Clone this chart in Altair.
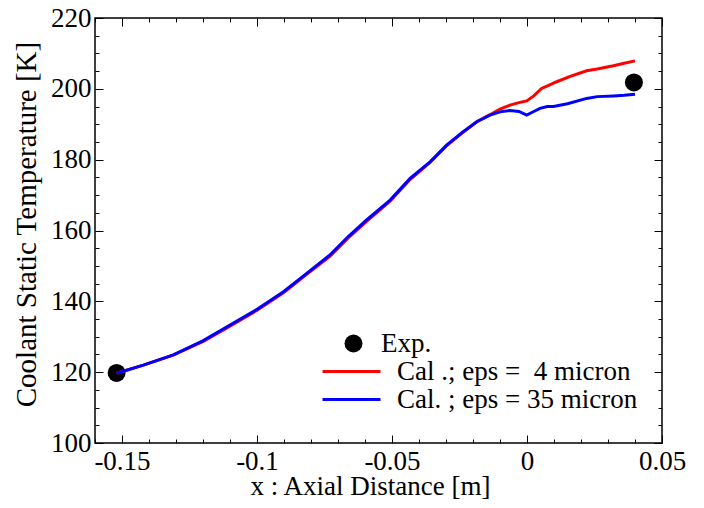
import altair as alt
import pandas as pd

# ---- data ----
x_red = [-0.152, -0.1421, -0.131, -0.1199, -0.110, -0.1001, -0.0902, -0.0816, -0.073,
         -0.0662, -0.0594, -0.0507, -0.0433, -0.0359, -0.0298, -0.0236, -0.0186, -0.0137,
         -0.010, -0.0063, -0.003, -0.0001, 0.0025, 0.0054, 0.008, 0.011, 0.016, 0.0221,
         0.026, 0.032, 0.036, 0.040]
y_red = [119.7, 122.0, 124.8, 128.7, 133.0, 137.4, 142.4, 147.6, 152.7,
         157.9, 162.6, 168.3, 174.4, 179.2, 183.9, 187.8, 190.7, 192.7,
         194.3, 195.4, 196.1, 196.6, 198.0, 200.1, 201.0, 202.0, 203.5, 205.1,
         205.6, 206.5, 207.2, 207.9]

x_blue = [-0.152, -0.1421, -0.131, -0.1199, -0.110, -0.1001, -0.0902, -0.0816, -0.073,
          -0.0662, -0.0594, -0.0507, -0.0433, -0.0359, -0.0298, -0.0236, -0.0186, -0.0137,
          -0.010, -0.0063, -0.003, -0.0001, 0.0025, 0.0048, 0.0075, 0.0098, 0.015, 0.0221,
          0.026, 0.032, 0.036, 0.040]
y_blue = [119.7, 122.0, 124.9, 128.9, 133.3, 137.7, 142.7, 147.9, 153.1,
          158.3, 163.0, 168.6, 174.7, 179.4, 184.1, 187.9, 190.7, 192.6,
          193.5, 193.9, 193.6, 192.6, 193.6, 194.5, 195.0, 195.0, 195.8, 197.3,
          197.8, 198.0, 198.2, 198.5]

exp_x = [-0.152, 0.0396]
exp_y = [119.8, 201.8]

series_labels = ["Cal .; eps = \u00a04 micron", "Cal. ; eps = 35 micron"]
exp_label = "Exp."

x_major = [-0.15, -0.1, -0.05, 0, 0.05]
x_minor = [-0.16, -0.14, -0.13, -0.12, -0.11, -0.09, -0.08, -0.07, -0.06,
           -0.04, -0.03, -0.02, -0.01, 0.01, 0.02, 0.03, 0.04]
y_major = [100, 120, 140, 160, 180, 200, 220]
y_minor = [105, 110, 115, 125, 130, 135, 145, 150, 155, 165, 170, 175,
           185, 190, 195, 205, 210, 215]

red_df = pd.DataFrame({"x": x_red, "y": y_red, "series": series_labels[0]})
blue_df = pd.DataFrame({"x": x_blue, "y": y_blue, "series": series_labels[1]})
exp_df = pd.DataFrame({"x": exp_x, "y": exp_y, "label": exp_label})

FONT = "Liberation Serif"
xscale = alt.Scale(domain=[-0.16, 0.05], nice=False, zero=False)
yscale = alt.Scale(domain=[100, 220], nice=False, zero=False)
cscale = alt.Scale(domain=series_labels, range=["#ff0000", "#0000ff"])


def tick_axis(orient, values, size):
    return alt.Axis(orient=orient, values=values, tickSize=size, offset=-size,
                    labels=False, title=None, domain=False, grid=False,
                    tickColor="black", tickWidth=1)


line_legend = alt.Legend(orient="none", legendX=226, legendY=340, title=None,
                         symbolType="stroke", symbolSize=3364, symbolStrokeWidth=3,
                         labelFont=FONT, labelFontSize=27, labelColor="black",
                         labelLimit=500, labelOffset=15, clipHeight=27, padding=0,
                         rowPadding=0)

x_main_axis = alt.Axis(orient="bottom", values=x_major, tickSize=8, offset=-8,
                       labelPadding=5, format="~g",
                       labelExpr="replace(datum.label, '\u2212', '-')",
                       labelFlush=False, labelOverlap=False,
                       title="x : Axial Distance [m]",
                       titleX=275, titleY=59, titleBaseline="alphabetic",
                       domain=False, grid=False,
                       tickColor="black", tickWidth=1,
                       labelFont=FONT, labelFontSize=27, labelColor="black",
                       titleFont=FONT, titleFontSize=27, titleFontWeight="normal",
                       titleColor="black")
y_main_axis = alt.Axis(orient="left", values=y_major, tickSize=8, offset=-8,
                       labelPadding=4, labelFlush=False, labelOverlap=False,
                       title="Coolant Static Temperature [K]",
                       titleX=-68, titleY=206, titleBaseline="alphabetic",
                       domain=False, grid=False,
                       tickColor="black", tickWidth=1,
                       labelFont=FONT, labelFontSize=27, labelColor="black",
                       titleFont=FONT, titleFontSize=29, titleFontWeight="normal",
                       titleColor="black")

points = alt.Chart(exp_df).mark_circle(size=324, opacity=1).encode(
    x=alt.X("x:Q", scale=xscale, axis=tick_axis("top", x_major, 8)),
    y=alt.Y("y:Q", scale=yscale, axis=tick_axis("right", y_major, 8)),
    fill=alt.Fill("label:N", scale=alt.Scale(domain=[exp_label], range=["black"]),
                  legend=alt.Legend(orient="none", legendX=245, legendY=312, title=None,
                                    symbolType="circle", symbolSize=324,
                                    symbolStrokeWidth=0, symbolOpacity=1,
                                    labelFont=FONT, labelFontSize=27, labelColor="black",
                                    labelLimit=300, labelOffset=14, padding=0)),
)

red = alt.Chart(red_df).mark_line(strokeWidth=3).encode(
    x=alt.X("x:Q", scale=xscale, axis=x_main_axis),
    y=alt.Y("y:Q", scale=yscale, axis=y_main_axis),
    color=alt.Color("series:N", scale=cscale, legend=line_legend),
)

blue = alt.Chart(blue_df).mark_line(strokeWidth=3).encode(
    x=alt.X("x:Q", scale=xscale, axis=tick_axis("bottom", x_minor, 4)),
    y=alt.Y("y:Q", scale=yscale, axis=tick_axis("left", y_minor, 4)),
    color=alt.Color("series:N", scale=cscale, legend=line_legend),
)

minor_tr = alt.Chart(exp_df).mark_point(opacity=0).encode(
    x=alt.X("x:Q", scale=xscale, axis=tick_axis("top", x_minor, 4)),
    y=alt.Y("y:Q", scale=yscale, axis=tick_axis("right", y_minor, 4)),
)

chart = alt.layer(points, red, blue, minor_tr).resolve_axis(
    x="independent", y="independent"
).properties(
    width=567, height=425,
    autosize=alt.AutoSizeParams(type="none"),
    padding={"left": 87, "top": 10, "right": 34, "bottom": 57},
    background="white",
).configure_view(
    stroke="black", strokeWidth=1.5
)

chart.save("out.html", embed_options={"renderer": "svg", "actions": False})
